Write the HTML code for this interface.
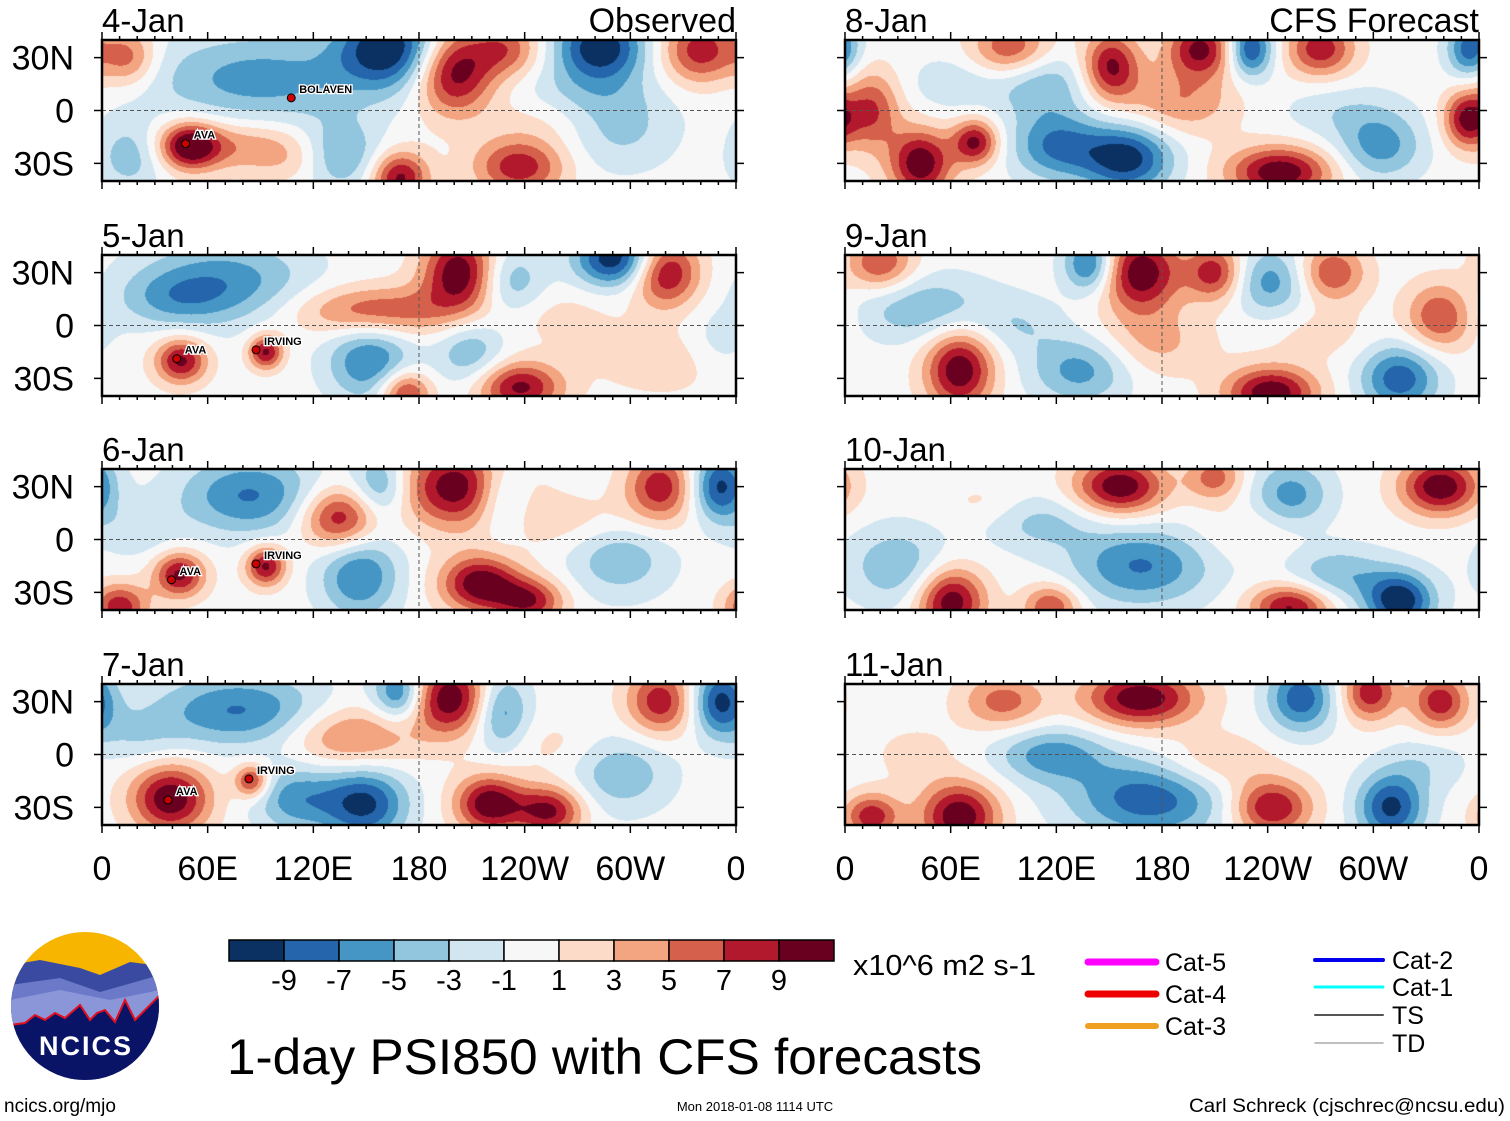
<!DOCTYPE html>
<html><head><meta charset="utf-8"><style>
html,body{margin:0;padding:0;background:#fff;}
#wrap{position:relative;width:1510px;height:1121px;}
canvas{position:absolute;}
#fig{position:absolute;left:0;top:0;}
svg text{font-family:"Liberation Sans",sans-serif;}
</style></head><body>
<div id="wrap">
<div id="canv"></div>
<svg id="fig" width="1510" height="1121" viewBox="0 0 1510 1121" xmlns="http://www.w3.org/2000/svg">
<defs></defs>
<g id="panels"></g>
<g id="colorbar"></g>
<g>
 <clipPath id="logoclip"><circle cx="85" cy="1006" r="74"/></clipPath>
 <g clip-path="url(#logoclip)">
  <rect x="10" y="930" width="150" height="160" fill="#f7b500"/>
  <path d="M10 965 L40 960 L80 968 L100 975 L130 962 L160 966 L160 1100 L10 1100Z" fill="#3a4aa0"/>
  <path d="M10 985 L60 978 L100 992 L160 975 L160 1100 L10 1100Z" fill="#6b79c8"/>
  <path d="M10 1000 L60 990 L110 1000 L160 990 L160 1100 L10 1100Z" fill="#8b96d8"/>
  <path d="M10 1025 L25 1023 L35 1015 L45 1020 L55 1013 L65 1018 L80 1005 L90 1020 L97 1013 L105 1010 L115 1022 L125 1000 L135 1020 L160 995 L160 1100 L10 1100Z" fill="#0a1466" stroke="#e01020" stroke-width="2"/>
 </g>
 <text x="86" y="1055" font-size="27" font-weight="bold" fill="#fff" text-anchor="middle" letter-spacing="2">NCICS</text>
</g>
<text x="4" y="1112" font-size="19">ncics.org/mjo</text>
<text x="227" y="1074" font-size="50" textLength="755" lengthAdjust="spacingAndGlyphs">1-day PSI850 with CFS forecasts</text>
<text x="853" y="975" font-size="29" textLength="183" lengthAdjust="spacingAndGlyphs">x10^6 m2 s-1</text>
<text x="755" y="1111" font-size="13" text-anchor="middle">Mon 2018-01-08 1114 UTC</text>
<text x="1505" y="1112" font-size="19" text-anchor="end" textLength="316" lengthAdjust="spacingAndGlyphs">Carl Schreck (cjschrec@ncsu.edu)</text>
<g id="legend"></g>
</svg>
</div>
<script>
// ---- data ----
const panelTitles = ["4-Jan","5-Jan","6-Jan","7-Jan","8-Jan","9-Jan","10-Jan","11-Jan"];
const levelBounds = [-9,-7,-5,-3,-1,1,3,5,7,9];
const paletteColors = ["#0a3162","#2465ab","#4596c5","#92c5de","#d2e6f1","#f7f7f7","#fcdbc8","#f3a480","#d5604c","#b3192c","#6a0020"];
const xTicks = [0,60,120,180,240,300,360];
const xTickLabels = ["0","60E","120E","180","120W","60W","0"];
const yTicks = [30,0,-30];
const yTickLabels = ["30N","0","30S"];
// blobs: [lon, lat, value, rxDeg, ryDeg]
const panel0 = [[163,36,-9,18,14],[90,18,-5,40,16],[200,22,9,14,15],[230,35,5,12,10],[283,36,-9,16,12],[340,34,7,14,12],[15,30,5,10,10],[50,-20,8,10,8],[75,-20,4,30,9],[169,-38,8,10,9],[237,-32,7,16,10],[135,-25,-5,14,12],[16,-25,-4,12,12],[294,-10,-3,20,15],[270,10,-2,25,10],[250,-5,1.5,20,10],[110,-30,1.5,15,8]];
const panel1 = [[203,30,9,13,14],[155,8,6,28,9],[291,38,-9,14,10],[320,30,8,12,12],[70,25,-5,30,15],[232,25,-4,12,12],[45,-20,8,9,8],[93,-15,8,6,6],[172,-38,7,9,8],[237,-35,8,15,9],[152,-20,-6,15,14],[320,-20,2,25,12],[209,-15,-4,12,12],[40,15,-3,20,10],[260,5,1.5,20,10],[350,-10,-2,12,12]];
const panel2 = [[203,30,9,20,14],[135,12,8,14,11],[158,30,-5,10,12],[226,25,-5,10,14],[317,30,7,12,12],[351,30,-8,10,12],[84,25,-6,25,14],[44,-20,8,9,8],[93,-15,8,7,7],[215,-25,9,14,10],[243,-35,7,12,8],[146,-20,-6,14,15],[294,-10,-4,18,14],[10,-38,7,10,8],[270,10,2,30,10],[20,5,-2,15,10]];
const panel3 = [[198,32,9,15,13],[169,35,-7,9,10],[226,25,-6,10,14],[317,30,7,12,12],[351,30,-8,10,12],[141,10,5,22,11],[78,25,-6,30,13],[39,-25,9,14,12],[85,-15,7,6,6],[149,-28,-8,15,13],[220,-28,9,12,10],[254,-32,8,12,9],[110,-25,-5,15,12],[294,-10,-4,18,14],[260,5,1.5,20,10],[20,10,-2,15,10]];
const panel4 = [[94,35,6,14,10],[111,15,-4,18,12],[151,25,8,10,12],[202,35,8,12,10],[230,35,-8,8,10],[270,35,7,12,10],[355,35,-7,8,10],[43,-30,9,11,12],[74,-18,8,8,8],[160,-27,-8.5,16,12],[120,-20,-6,16,12],[247,-35,9,18,9],[353,-5,8,8,10],[15,0,6,10,14],[304,-20,-5,15,12],[190,5,4,20,12],[60,15,-2,15,10],[280,0,-2,20,10]];
const panel5 = [[168,30,9,14,14],[139,35,-7,9,10],[210,30,7,10,10],[242,25,-5,14,12],[276,30,6,12,10],[338,5,6,12,12],[65,-25,9,12,14],[134,-25,-5,18,12],[242,-38,9,16,9],[315,-30,-7,14,12],[45,10,-4,25,12],[20,35,6,12,10],[175,-10,3,20,12],[270,-5,1.5,20,10],[100,0,-2,15,10]];
const panel6 = [[156,30,9,16,10],[338,30,9,14,10],[253,25,-5,14,12],[210,35,5,10,8],[60,-35,9,12,12],[168,-15,-6,25,14],[315,-35,-9,12,10],[253,-38,8,14,8],[280,-20,-4,18,10],[30,-15,-4,18,14],[117,-38,6,10,8],[110,10,-3,20,10],[230,5,1.5,20,10],[80,20,1.5,15,8]];
const panel7 = [[168,32,9,20,10],[259,32,-7,12,12],[298,35,7,10,10],[338,30,7,10,10],[90,30,5,15,10],[65,-35,9,14,12],[173,-25,-7,28,14],[117,0,-5,20,10],[242,-30,8,14,10],[310,-30,-8,12,12],[15,-35,7,10,8],[210,-5,3,20,10],[40,0,1.5,15,10],[330,-5,-2,15,10]];
const panelBlobs = [panel0,panel1,panel2,panel3,panel4,panel5,panel6,panel7];
// storm labels per panel: [lon, lat, name]
const stormLabels = [[[52,-16,"AVA"],[112,10,"BOLAVEN"]],[[47,-16,"AVA"],[92,-11,"IRVING"]],[[44,-20,"AVA"],[92,-11,"IRVING"]],[[42,-23,"AVA"],[88,-11,"IRVING"]],[],[],[],[]];

const NS="http://www.w3.org/2000/svg";
function mk(tag,attrs,parent){const e=document.createElementNS(NS,tag);for(const k in attrs)e.setAttribute(k,attrs[k]);parent.appendChild(e);return e;}
const PW=634, PH=141, SPREAD=1.6, AMP=1.2;
function panelGeom(i){const col=i<4?0:1,row=i%4;return {x0:col?845:102,y0:Math.round(40+row*214.5)};}
function hex2rgb(h){return [parseInt(h.slice(1,3),16),parseInt(h.slice(3,5),16),parseInt(h.slice(5,7),16)];}
const palRGB=paletteColors.map(hex2rgb);
function colorIdx(v){let idx=0;for(let k=0;k<levelBounds.length;k++){if(v>levelBounds[k])idx=k+1;}return idx;}
const panelsG=document.getElementById('panels');
const canvHolder=document.getElementById('canv');
for(let i=0;i<8;i++){
  const {x0,y0}=panelGeom(i);
  const xs=lon=>x0+lon/360*PW;
  const ys=lat=>y0+PH/2-lat/80*PH;
  const cv=document.createElement('canvas');cv.width=PW;cv.height=PH;
  cv.style.left=x0+'px';cv.style.top=y0+'px';
  
  
  canvHolder.appendChild(cv);
  const ctx=cv.getContext('2d');const img=ctx.createImageData(PW,PH);
  const blobs=panelBlobs[i];
  for(let py=0;py<PH;py++){const lat=40-(py+0.5)/PH*80;
    for(let px=0;px<PW;px++){const lon=(px+0.5)/PW*360;let v=0;
      for(const b of blobs){let dl=Math.abs(lon-b[0]);if(dl>180)dl=360-dl;
        const dx=dl/(b[3]*SPREAD),dy=(lat-b[1])/(b[4]*SPREAD);const d2=dx*dx+dy*dy;
        if(d2<9)v+=b[2]*AMP*Math.exp(-d2);}
      const c=palRGB[colorIdx(v)];const o=(py*PW+px)*4;
      img.data[o]=c[0];img.data[o+1]=c[1];img.data[o+2]=c[2];img.data[o+3]=255;}}
  ctx.putImageData(img,0,0);
  const g=mk('g',{},panelsG);
  
  
  mk('line',{x1:x0,x2:x0+PW,y1:ys(0),y2:ys(0),stroke:'#555','stroke-dasharray':'4,3','stroke-width':1},g);
  mk('line',{x1:xs(180),x2:xs(180),y1:y0,y2:y0+PH,stroke:'#555','stroke-dasharray':'4,3','stroke-width':1},g);
  stormLabels[i].forEach(s=>{
    mk('circle',{cx:xs(s[0])-8,cy:ys(s[1])+5,r:4,fill:'#c00',stroke:'#000','stroke-width':1},g);
    const t=mk('text',{x:xs(s[0]),y:ys(s[1]),'font-size':11,'font-weight':'bold',stroke:'#fff','stroke-width':2.5,'paint-order':'stroke'},g);t.textContent=s[2];
    
    
  });
  mk('rect',{x:x0,y:y0,width:PW,height:PH,fill:'none',stroke:'#000','stroke-width':2.5},g);
  for(let lon=0;lon<=360;lon+=10){const len=lon%60===0?8:4;
    mk('line',{x1:xs(lon),x2:xs(lon),y1:y0,y2:y0-len,stroke:'#000','stroke-width':1.5},g);
    mk('line',{x1:xs(lon),x2:xs(lon),y1:y0+PH,y2:y0+PH+len,stroke:'#000','stroke-width':1.5},g);}
  yTicks.forEach(lat=>{mk('line',{x1:x0,x2:x0-8,y1:ys(lat),y2:ys(lat),stroke:'#000','stroke-width':1.5},g);mk('line',{x1:x0+PW,x2:x0+PW+8,y1:ys(lat),y2:ys(lat),stroke:'#000','stroke-width':1.5},g);});
  const tt=mk('text',{x:x0,y:y0-8,'font-size':33},g);tt.textContent=panelTitles[i];
  
  
  if(i%4===0){const st=mk('text',{x:x0+PW,y:y0-8,'font-size':34,'text-anchor':'end'},g);st.textContent=i===0?"Observed":"CFS Forecast";
    
    }
  if(i<4){yTicks.forEach((lat,k)=>{const t=mk('text',{x:74,y:ys(lat)+12,'font-size':34,'text-anchor':'end'},g);t.textContent=yTickLabels[k];
    
    });}
  if(i%4===3){xTicks.forEach((lon,k)=>{const t=mk('text',{x:xs(lon),y:880,'font-size':34,'text-anchor':'middle'},g);t.textContent=xTickLabels[k];
    
    });}
}
const cb=document.getElementById('colorbar');const bw=55;
paletteColors.forEach((c,k)=>{const r=mk('rect',{x:229+k*bw,y:940,width:bw,height:21,fill:c,stroke:'#000','stroke-width':1.5},cb);
  
  });
levelBounds.forEach((v,k)=>{const t=mk('text',{x:229+(k+1)*bw,y:990,'font-size':29,'text-anchor':'middle'},cb);t.textContent=String(v);
  
  });
const lg=document.getElementById('legend');
const legendItems=[["Cat-5","#ff00ff",7,1088,962],["Cat-4","#ee0000",7,1088,994],["Cat-3","#f0a020",6,1088,1026],["Cat-2","#0000ee",4,1315,960],["Cat-1","#00ffff",3,1315,987],["TS","#555",2,1315,1015],["TD","#aaa",1.5,1315,1043]];
legendItems.forEach(it=>{mk('line',{x1:it[3],x2:it[3]+68,y1:it[4],y2:it[4],stroke:it[1],'stroke-width':it[2],'stroke-linecap':'round'},lg);
  const t=mk('text',{x:it[3]+77,y:it[4]+9,'font-size':25},lg);t.textContent=it[0];
  
  });
</script>
</body></html>
